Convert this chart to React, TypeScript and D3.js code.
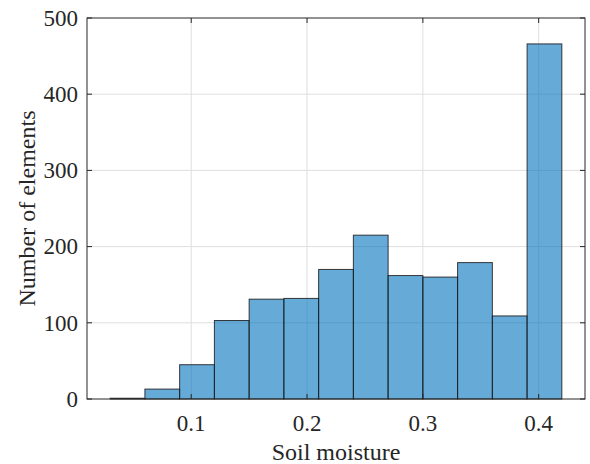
import React from "react";
import * as d3 from "d3";

const binEdges = [0.03, 0.06, 0.09, 0.12, 0.15, 0.18, 0.21, 0.24, 0.27, 0.30, 0.33, 0.36, 0.39, 0.42];
const counts = [1, 13, 45, 103, 131, 132, 170, 215, 162, 160, 179, 109, 466];
const xTicks = [0.1, 0.2, 0.3, 0.4];
const yTicks = [0, 100, 200, 300, 400, 500];
const xLabel = "Soil moisture";
const yLabel = "Number of elements";

const W = 590;
const H = 464;
const left = 87;
const right = 585;
const top = 18;
const bottom = 399;
const axisColor = "#262626";
const gridColor = "#dfdfdf";
const font = "'Liberation Serif', 'Times New Roman', serif";

export default function App() {
  const x = d3.scaleLinear().domain([0.01, 0.44]).range([left, right]);
  const y = d3.scaleLinear().domain([0, 500]).range([bottom, top]);
  const tickLen = 5;
  const bins = counts.map((c, i) => ({ x0: binEdges[i], x1: binEdges[i + 1], c }));
  return (
    <svg
      width={W}
      height={H}
      style={{ position: "absolute", left: 0, top: 0, background: "#fff" }}
      fontFamily={font}
    >
      <rect x={0} y={0} width={W} height={H} fill="#fff" />
      {/* grid */}
      {xTicks.map((t) => (
        <line key={"gx" + t} x1={x(t)} x2={x(t)} y1={top} y2={bottom} stroke={gridColor} strokeWidth={1} />
      ))}
      {yTicks.slice(1, -1).map((t) => (
        <line key={"gy" + t} x1={left} x2={right} y1={y(t)} y2={y(t)} stroke={gridColor} strokeWidth={1} />
      ))}
      {/* bars */}
      {bins.map((b, i) => (
        <rect
          key={"b" + i}
          x={x(b.x0)}
          y={y(b.c)}
          width={x(b.x1) - x(b.x0)}
          height={bottom - y(b.c)}
          fill="rgb(0,114,189)"
          fillOpacity={0.6}
          stroke="#1a1a1a"
          strokeOpacity={0.85}
          strokeWidth={1}
        />
      ))}
      {/* box */}
      <rect x={left} y={top} width={right - left} height={bottom - top} fill="none" stroke={axisColor} strokeWidth={1} />
      {/* ticks */}
      {xTicks.map((t) => (
        <g key={"tx" + t}>
          <line x1={x(t)} x2={x(t)} y1={bottom} y2={bottom - tickLen} stroke={axisColor} />
          <line x1={x(t)} x2={x(t)} y1={top} y2={top + tickLen} stroke={axisColor} />
          <text x={x(t)} y={431} textAnchor="middle" fontSize={23} fill={axisColor}>
            {d3.format(".1f")(t)}
          </text>
        </g>
      ))}
      {yTicks.map((t) => (
        <g key={"ty" + t}>
          <line x1={left} x2={left + tickLen} y1={y(t)} y2={y(t)} stroke={axisColor} />
          <line x1={right} x2={right - tickLen} y1={y(t)} y2={y(t)} stroke={axisColor} />
          <text x={78} y={y(t)} dy="0.34em" textAnchor="end" fontSize={23} fill={axisColor}>
            {t}
          </text>
        </g>
      ))}
      <text x={(left + right) / 2} y={460} textAnchor="middle" fontSize={24} fill={axisColor}>
        {xLabel}
      </text>
      <text
        transform={`translate(35,${(top + bottom) / 2}) rotate(-90)`}
        textAnchor="middle"
        fontSize={24}
        fill={axisColor}
      >
        {yLabel}
      </text>
    </svg>
  );
}
